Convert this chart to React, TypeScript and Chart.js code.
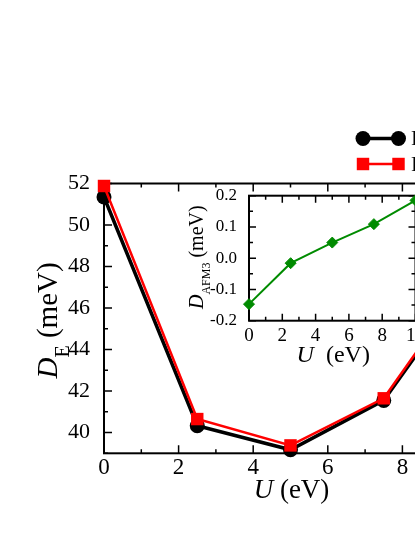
import React, { useEffect, useRef } from 'react';
import { Chart, registerables } from 'chart.js';
Chart.register(...registerables);

// ---- data ----
const uValues = [0, 2.5, 5, 7.5, 10];
const dEBlack = [51.35, 40.33, 39.17, 41.55, 47.85];
const dERed = [51.88, 40.65, 39.38, 41.65, 48.0];
const dAFM3 = [-0.147, -0.016, 0.05, 0.109, 0.185];

const mainXTicks = [0, 2, 4, 6, 8, 10];
const mainXMinor = [1, 3, 5, 7, 9];
const mainYTicks = [40, 42, 44, 46, 48, 50, 52];
const mainYMinor = [39, 41, 43, 45, 47, 49, 51];
const insetXTicks = [0, 2, 4, 6, 8, 10];
const insetXMinor = [1, 3, 5, 7, 9];
const insetYTicks = [-0.2, -0.1, 0, 0.1, 0.2];
const insetYMinor = [-0.15, -0.05, 0.05, 0.15];
const legendLabels = ['Full model', 'Fitted model'];

const SERIF = '"Liberation Serif", "DejaVu Serif", serif';
const GREEN = 'rgb(0,139,0)';

type Seg = { t: string; italic?: boolean; size: number; dy?: number };

function drawRich(ctx: CanvasRenderingContext2D, segs: Seg[], cx: number, cy: number, rot: number) {
  ctx.save();
  ctx.translate(cx, cy);
  ctx.rotate(rot);
  ctx.fillStyle = '#000';
  ctx.textBaseline = 'alphabetic';
  ctx.textAlign = 'left';
  let total = 0;
  const widths = segs.map((s) => {
    ctx.font = `${s.italic ? 'italic ' : ''}${s.size}px ${SERIF}`;
    const w = ctx.measureText(s.t).width;
    total += w;
    return w;
  });
  let x = -total / 2;
  segs.forEach((s, i) => {
    ctx.font = `${s.italic ? 'italic ' : ''}${s.size}px ${SERIF}`;
    ctx.fillText(s.t, x, s.dy || 0);
    x += widths[i];
  });
  ctx.restore();
}

function frameTicksPlugin(cfg: {
  xMajor: number[]; xMinor: number[]; yMajor: number[]; yMinor: number[];
  majorLen: number; minorLen: number; frameWidth: number; tickWidth: number;
}) {
  return {
    id: 'frameTicks',
    beforeDatasetsDraw(chart: any) {
      const { ctx, chartArea: a, scales } = chart;
      const xs = scales.x, ys = scales.y;
      ctx.save();
      ctx.strokeStyle = '#000';
      ctx.lineWidth = cfg.tickWidth;
      ctx.beginPath();
      const xt = (vals: number[], len: number) => vals.forEach((v) => {
        const p = xs.getPixelForValue(v);
        ctx.moveTo(p, a.bottom); ctx.lineTo(p, a.bottom - len);
        ctx.moveTo(p, a.top); ctx.lineTo(p, a.top + len);
      });
      const yt = (vals: number[], len: number) => vals.forEach((v) => {
        const p = ys.getPixelForValue(v);
        ctx.moveTo(a.left, p); ctx.lineTo(a.left + len, p);
        ctx.moveTo(a.right, p); ctx.lineTo(a.right - len, p);
      });
      xt(cfg.xMajor, cfg.majorLen); xt(cfg.xMinor, cfg.minorLen);
      yt(cfg.yMajor, cfg.majorLen); yt(cfg.yMinor, cfg.minorLen);
      ctx.stroke();
      ctx.lineWidth = cfg.frameWidth;
      ctx.strokeRect(a.left, a.top, a.right - a.left, a.bottom - a.top);
      ctx.restore();
    },
  };
}

const MAIN_W = 560, MAIN_H = 537;
const INSET_L = 170, INSET_T = 180, INSET_W = 300, INSET_H = 200;

export default function App() {
  const mainRef = useRef<HTMLCanvasElement>(null);
  const insetRef = useRef<HTMLCanvasElement>(null);

  useEffect(() => {
    const mainTitles = {
      id: 'mainTitles',
      afterDraw(chart: any) {
        const { ctx, chartArea: a } = chart;
        drawRich(ctx, [{ t: 'U', italic: true, size: 27 }, { t: ' (eV)', size: 27 }], (a.left + a.right) / 2 + 1, 498, 0);
        drawRich(ctx, [
          { t: 'D', italic: true, size: 29 },
          { t: 'E', size: 20, dy: 12 },
          { t: ' (meV)', size: 29 },
        ], 57, (a.top + a.bottom) / 2 + 2, -Math.PI / 2);
        // legend
        const dsets = chart.data.datasets;
        const rows = [
          { ds: dsets[1], y: 138.5, label: legendLabels[0] },
          { ds: dsets[0], y: 164, label: legendLabels[1] },
        ];
        ctx.save();
        rows.forEach((r) => {
          const x1 = 363, x2 = 398.5;
          ctx.strokeStyle = r.ds.borderColor;
          ctx.lineWidth = r.ds.borderWidth;
          ctx.beginPath(); ctx.moveTo(x1, r.y); ctx.lineTo(x2, r.y); ctx.stroke();
          ctx.fillStyle = r.ds.pointBackgroundColor;
          [x1, x2].forEach((px) => {
            ctx.beginPath();
            if (r.ds.pointStyle === 'rect') {
              const h = r.ds.pointRadius * Math.SQRT1_2;
              ctx.rect(px - h, r.y - h, 2 * h, 2 * h);
            } else {
              ctx.arc(px, r.y, r.ds.pointRadius, 0, Math.PI * 2);
            }
            ctx.fill();
          });
          ctx.fillStyle = '#000';
          ctx.font = `22px ${SERIF}`;
          ctx.textBaseline = 'middle';
          ctx.textAlign = 'left';
          ctx.fillText(r.label, 411, r.y + 1);
        });
        ctx.restore();
      },
    };

    const main = new Chart(mainRef.current!, {
      type: 'line',
      data: {
        datasets: [
          {
            label: legendLabels[1],
            data: uValues.map((u, i) => ({ x: u, y: dERed[i] })),
            borderColor: 'rgb(255,0,0)',
            backgroundColor: 'rgb(255,0,0)',
            pointBackgroundColor: 'rgb(255,0,0)',
            pointBorderColor: 'rgb(255,0,0)',
            borderWidth: 2.5,
            pointStyle: 'rect',
            pointRadius: 8.8,
            pointBorderWidth: 0,
            order: 0,
            clip: false,
          } as any,
          {
            label: legendLabels[0],
            data: uValues.map((u, i) => ({ x: u, y: dEBlack[i] })),
            borderColor: '#000',
            backgroundColor: '#000',
            pointBackgroundColor: '#000',
            pointBorderColor: '#000',
            borderWidth: 3.5,
            pointStyle: 'circle',
            pointRadius: 7.5,
            pointBorderWidth: 0,
            order: 1,
            clip: false,
          } as any,
        ],
      },
      options: {
        responsive: false,
        animation: false,
        devicePixelRatio: 1,
        layout: { padding: { left: 0, top: 183.5, right: MAIN_W - 477, bottom: 0 } },
        scales: {
          x: {
            type: 'linear', min: 0, max: 10, position: 'bottom',
            afterFit: (s: any) => { s.height = MAIN_H - 453.3; },
            afterBuildTicks: (s: any) => { s.ticks = mainXTicks.map((v) => ({ value: v })); },
            grid: { display: false }, border: { display: false },
            ticks: { padding: -7, color: '#000', font: { family: SERIF, size: 23 }, maxRotation: 0, autoSkip: false, callback: (v: any) => String(v) },
          },
          y: {
            type: 'linear', min: 39, max: 52, position: 'left',
            afterFit: (s: any) => { s.width = 104; },
            afterBuildTicks: (s: any) => { s.ticks = mainYTicks.map((v) => ({ value: v })); },
            grid: { display: false }, border: { display: false },
            ticks: { padding: 6, color: '#000', font: { family: SERIF, size: 22 }, autoSkip: false, callback: (v: any) => String(v) },
          },
        },
        plugins: { legend: { display: false }, tooltip: { enabled: false } },
      } as any,
      plugins: [
        frameTicksPlugin({ xMajor: mainXTicks, xMinor: mainXMinor, yMajor: mainYTicks, yMinor: mainYMinor, majorLen: 8, minorLen: 4, frameWidth: 2, tickWidth: 1.5 }),
        mainTitles,
      ],
    });

    const insetTitles = {
      id: 'insetTitles',
      afterDraw(chart: any) {
        const { ctx, chartArea: a } = chart;
        drawRich(ctx, [{ t: 'U', italic: true, size: 24 }, { t: '  (eV)', size: 24 }], (a.left + a.right) / 2 + 1, 181.5, 0);
        drawRich(ctx, [
          { t: 'D', italic: true, size: 20 },
          { t: 'AFM3', size: 12, dy: 7 },
          { t: ' (meV)', size: 20 },
        ], 33, (a.top + a.bottom) / 2 - 1, -Math.PI / 2);
      },
    };

    const inset = new Chart(insetRef.current!, {
      type: 'line',
      data: {
        datasets: [
          {
            data: uValues.map((u, i) => ({ x: u, y: dAFM3[i] })),
            borderColor: GREEN,
            backgroundColor: GREEN,
            pointBackgroundColor: GREEN,
            pointBorderColor: GREEN,
            borderWidth: 2,
            pointStyle: 'rectRot',
            pointRadius: 5.5,
            pointBorderWidth: 1,
            clip: false,
          } as any,
        ],
      },
      options: {
        responsive: false,
        animation: false,
        devicePixelRatio: 1,
        layout: { padding: { left: 0, top: 195.7 - INSET_T, right: INSET_W - (415.5 - INSET_L), bottom: 0 } },
        scales: {
          x: {
            type: 'linear', min: 0, max: 10, position: 'bottom',
            afterFit: (s: any) => { s.height = INSET_H - (320.7 - INSET_T); },
            afterBuildTicks: (s: any) => { s.ticks = insetXTicks.map((v) => ({ value: v })); },
            grid: { display: false }, border: { display: false },
            ticks: { padding: -4, color: '#000', font: { family: SERIF, size: 19 }, maxRotation: 0, autoSkip: false, callback: (v: any) => String(v) },
          },
          y: {
            type: 'linear', min: -0.2, max: 0.2, position: 'left',
            afterFit: (s: any) => { s.width = 249 - INSET_L; },
            afterBuildTicks: (s: any) => { s.ticks = insetYTicks.map((v) => ({ value: v })); },
            grid: { display: false }, border: { display: false },
            ticks: { padding: 4, color: '#000', font: { family: SERIF, size: 17 }, autoSkip: false, callback: (v: any) => Number(v).toFixed(1) },
          },
        },
        plugins: { legend: { display: false }, tooltip: { enabled: false } },
      } as any,
      plugins: [
        frameTicksPlugin({ xMajor: insetXTicks, xMinor: insetXMinor, yMajor: insetYTicks, yMinor: insetYMinor, majorLen: 7, minorLen: 4, frameWidth: 2, tickWidth: 1.5 }),
        insetTitles,
      ],
    });

    return () => { main.destroy(); inset.destroy(); };
  }, []);

  return (
    <div style={{ position: 'fixed', left: 0, top: 0, width: 415, height: 537, overflow: 'hidden', background: '#fff' }}>
      <canvas ref={mainRef} width={MAIN_W} height={MAIN_H} style={{ position: 'absolute', left: 0, top: 0, width: MAIN_W, height: MAIN_H }} />
      <canvas ref={insetRef} width={INSET_W} height={INSET_H} style={{ position: 'absolute', left: INSET_L, top: INSET_T, width: INSET_W, height: INSET_H }} />
    </div>
  );
}
